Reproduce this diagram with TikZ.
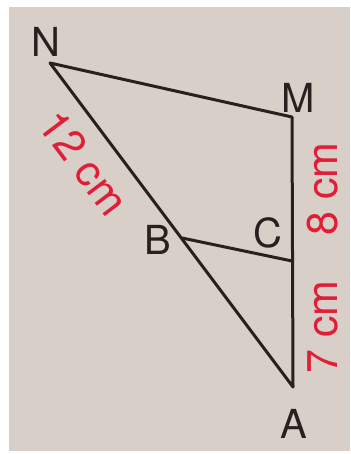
\documentclass[tikz,border=0pt]{standalone}
\usepackage{fontspec}
\setmainfont{TeX Gyre Heros}
\begin{document}
\begin{tikzpicture}[x=1pt,y=-1pt,
  seg/.style={line width=3pt, draw={rgb,255:red,38;green,32;blue,30}, line cap=round, line join=round},
  ptlabel/.style={text={rgb,255:red,38;green,32;blue,30}, font=\fontsize{40}{40}\selectfont, inner sep=0pt},
  measure/.style={text={rgb,255:red,225;green,30;blue,55}, font=\fontsize{43}{43}\selectfont, inner sep=0pt}]
\useasboundingbox (0,0) rectangle (350,454);
\fill[white] (0,0) rectangle (350,454);
\fill[fill={rgb,255:red,216;green,208;blue,200}] (9,7) rectangle (350,451);
\coordinate (N) at (50,63);
\coordinate (M) at (292,117);
\coordinate (B) at (182,238);
\coordinate (C) at (292,261);
\coordinate (A) at (293,387);
\draw[seg] (M) -- (N) -- (A) -- (M);
\draw[seg] (B) -- (C);
\node[ptlabel] (lN) at (46,42) {N};
\node[ptlabel] (lM) at (298,98) {M};
\node[ptlabel] (lB) at (158,240) {B};
\node[ptlabel] (lC) at (268,233) {C};
\node[ptlabel] (lA) at (294,424) {A};
\node[measure, rotate=-53] (m12) at (84,163) {12 cm};
\node[measure, rotate=90] (m8) at (323,189) {8 cm};
\node[measure, rotate=90] (m7) at (323,327) {7 cm};
\end{tikzpicture}
\end{document}
